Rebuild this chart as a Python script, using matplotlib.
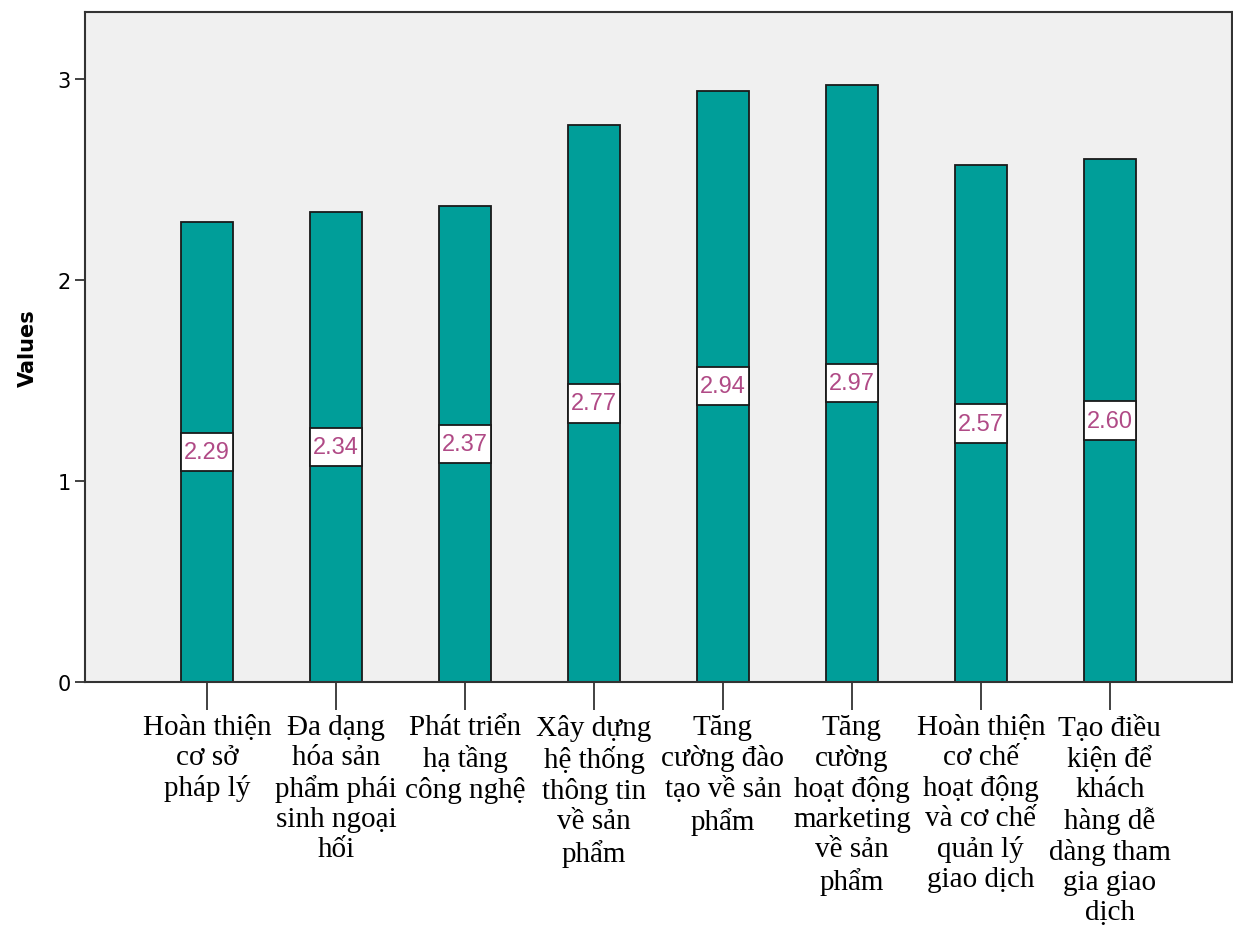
import matplotlib.pyplot as plt
from matplotlib.patches import Rectangle

categories = [
    "Hoàn thiện\ncơ sở\npháp lý",
    "Đa dạng\nhóa sản\nphẩm phái\nsinh ngoại\nhối",
    "Phát triển\nhạ tầng\ncông nghệ",
    "Xây dựng\nhệ thống\nthông tin\nvề sản\nphẩm",
    "Tăng\ncường đào\ntạo về sản\nphẩm",
    "Tăng\ncường\nhoạt động\nmarketing\nvề sản\nphẩm",
    "Hoàn thiện\ncơ chế\nhoạt động\nvà cơ chế\nquản lý\ngiao dịch",
    "Tạo điều\nkiện để\nkhách\nhàng dễ\ndàng tham\ngia giao\ndịch",
]
values = [2.29, 2.34, 2.37, 2.77, 2.94, 2.97, 2.57, 2.60]

bar_w = 0.4
box_h = 0.19

fig = plt.figure(figsize=(12.33, 9.29), dpi=100)
ax = fig.add_axes([0.069, 0.265, 0.93, 0.721])
ax.set_facecolor("#F0F0F0")

x = range(len(values))
ax.bar(x, values, width=bar_w, color="#009E99", edgecolor="#1a1a1a", linewidth=1.3, zorder=2)

# value labels: white box across the bar at half height
for i, v in enumerate(values):
    ax.add_patch(Rectangle((i - bar_w / 2, v / 2 - box_h / 2), bar_w, box_h,
                           facecolor="white", edgecolor="#1a1a1a", linewidth=1.3, zorder=3))
    ax.text(i, v / 2, f"{v:.2f}", ha="center", va="center", fontsize=17,
            color="#B04A86", family="Liberation Sans", zorder=4)

ax.set_xlim(-0.946, 7.946)
ax.set_ylim(0, 3.333)
ax.set_yticks([0, 1, 2, 3])
ax.set_xticks(list(x))
ax.set_xticklabels(categories, family="Liberation Serif", fontsize=21, linespacing=1.2)
ax.tick_params(axis="y", labelsize=15, length=7, width=1.3, color="#333333")
ax.tick_params(axis="x", length=20, width=1.3, color="#333333", pad=3)
ax.set_ylabel("Values", fontsize=15, fontweight="bold", labelpad=14)

for s in ax.spines.values():
    s.set_color("#333333")
    s.set_linewidth(1.5)

fig.savefig("out.png", dpi=100)
